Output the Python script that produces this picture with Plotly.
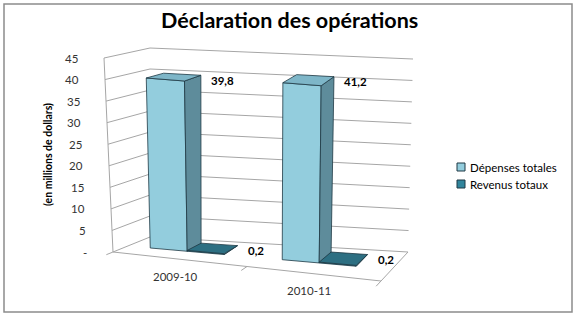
import plotly.graph_objects as go

# ---------------- data ----------------
title_text = "Déclaration des opérations"
y_title = "(en millions de dollars)"
categories = ["2009-10", "2010-11"]
series_names = ["Dépenses totales", "Revenus totaux"]
depenses = [39.8, 41.2]
revenus = [0.2, 0.2]
depenses_labels = ["39,8", "41,2"]
revenus_labels = ["0,2", "0,2"]
y_tick_values = [0, 5, 10, 15, 20, 25, 30, 35, 40, 45]
y_tick_labels = ["-", "5", "10", "15", "20", "25", "30", "35", "40", "45"]

# ---------------- 3D-like projection (layout geometry) ----------------
YMAX = 45.0
NCAT = len(categories)
CORNERS = {
    (0, 0, 0): (113, 252), (1, 0, 0): (381, 281),
    (0, 0, 1): (150, 237), (1, 0, 1): (408, 252),
    (0, 1, 0): (104, 58), (1, 1, 0): (386, 86),
    (0, 1, 1): (150, 48), (1, 1, 1): (413, 59),
}


def proj(X, Y, Z):
    u = X / NCAT
    t = Y / YMAX
    v = Z
    px = py = 0.0
    for (a, b, c), (cx, cy) in CORNERS.items():
        w = (u if a else 1 - u) * (t if b else 1 - t) * (v if c else 1 - v)
        px += w * cx
        py += w * cy
    return px, py


GAP = 0.17          # offset of first bar in each category
BW = 0.28           # bar width (category units)
Z0, Z1 = 0.40, 0.80  # bar depth span

colors = {
    "Dépenses totales": dict(front="#93CDDD", side="#5E8C9B", top="#7EB6C8"),
    "Revenus totaux": dict(front="#31859C", side="#22596A", top="#2D6F82"),
}
EDGE = "#1E3944"
GRID = "#A6A6A6"
FONT = "Lato"

fig = go.Figure()


def add_line(points, color=GRID, width=1):
    xs, ys = [], []
    for seg in points:
        for p in seg:
            xs.append(p[0])
            ys.append(p[1])
        xs.append(None)
        ys.append(None)
    fig.add_trace(go.Scatter(x=xs, y=ys, mode="lines", line=dict(color=color, width=width),
                             hoverinfo="skip", showlegend=False))


def add_poly(pts, fill, line=EDGE, name=None):
    xs = [p[0] for p in pts] + [pts[0][0]]
    ys = [p[1] for p in pts] + [pts[0][1]]
    fig.add_trace(go.Scatter(x=xs, y=ys, mode="lines", fill="toself", fillcolor=fill,
                             line=dict(color=line, width=0.8), hoverinfo="skip",
                             showlegend=False, name=name))


# gridlines (side wall + back wall)
segs = []
for yv in y_tick_values:
    segs.append([proj(0, yv, 0), proj(0, yv, 1), proj(NCAT, yv, 1)])
add_line(segs)
# value axis edge, floor front + right edges, category ticks
add_line([[proj(0, 0, 0), proj(0, YMAX, 0)],
          [proj(0, 0, 0), proj(NCAT, 0, 0), proj(NCAT, 0, 1)]])
add_line([[proj(i, 0, 0), proj(i, 0, -0.18)] for i in range(NCAT + 1)])

# bars
series_vals = [depenses, revenus]
series_lbls = [depenses_labels, revenus_labels]
for ci in range(NCAT):
    for si, name in enumerate(series_names):
        val = series_vals[si][ci]
        x0 = ci + GAP + si * BW
        x1 = x0 + BW
        c = colors[name]
        add_poly([proj(x0, 0, Z0), proj(x1, 0, Z0), proj(x1, val, Z0), proj(x0, val, Z0)], c["front"], name=name)
        add_poly([proj(x1, 0, Z0), proj(x1, 0, Z1), proj(x1, val, Z1), proj(x1, val, Z0)], c["side"], name=name)
        add_poly([proj(x0, val, Z0), proj(x1, val, Z0), proj(x1, val, Z1), proj(x0, val, Z1)], c["top"], name=name)

annotations = []
# data labels
for ci in range(NCAT):
    for si, name in enumerate(series_names):
        val = series_vals[si][ci]
        x1 = ci + GAP + (si + 1) * BW
        px, py = proj(x1, val, Z1)
        annotations.append(dict(x=px, y=py, text="<b>" + series_lbls[si][ci] + "</b>", showarrow=False,
                                xanchor="left", yanchor="middle", xshift=8, yshift=-5,
                                font=dict(family=FONT, size=11.5, color="#000000")))

# value axis tick labels
for yv, lab in zip(y_tick_values, y_tick_labels):
    px, py = proj(0, yv, 0)
    annotations.append(dict(x=px - 24, y=py, text=lab, showarrow=False, xanchor="right",
                            yanchor="middle", font=dict(family=FONT, size=11.5, color="#333333")))

# category labels
for ci, cat in enumerate(categories):
    px, py = proj(ci + 0.5, 0, 0)
    annotations.append(dict(x=px - 5, y=py + 17, text=cat, showarrow=False, xanchor="center",
                            yanchor="middle", font=dict(family=FONT, size=11.5, color="#333333")))

# axis title + title
annotations.append(dict(x=48, y=155, text="<b>" + y_title + "</b>", textangle=-90, showarrow=False,
                        xanchor="center", yanchor="middle", font=dict(family=FONT, size=10.5, color="#000000")))
annotations.append(dict(x=289, y=20, text="<b>" + title_text + "</b>", showarrow=False,
                        xanchor="center", yanchor="middle", font=dict(family=FONT, size=21.5, color="#000000")))

# legend (manual, Excel style)
leg_y = [167, 184]
for si, name in enumerate(series_names):
    fig.add_trace(go.Scatter(x=[461], y=[leg_y[si]], mode="markers",
                             marker=dict(symbol="square", size=8, color=colors[name]["front"],
                                         line=dict(color=EDGE, width=1)),
                             hoverinfo="skip", showlegend=False, name=name))
    annotations.append(dict(x=468, y=leg_y[si], text=name, showarrow=False, xanchor="left",
                            yanchor="middle", font=dict(family=FONT, size=11.5, color="#000000")))

fig.update_layout(
    width=577, height=318, margin=dict(l=0, r=0, t=0, b=0),
    paper_bgcolor="white", plot_bgcolor="white",
    xaxis=dict(range=[0, 577], visible=False, fixedrange=True),
    yaxis=dict(range=[318, 0], visible=False, fixedrange=True),
    showlegend=False, annotations=annotations,
    shapes=[dict(type="rect", xref="x", yref="y", x0=4, y0=4, x1=572, y1=312,
                 line=dict(color="#8C8C8C", width=1.5), fillcolor="rgba(0,0,0,0)")],
)

fig.write_html("out.html")
